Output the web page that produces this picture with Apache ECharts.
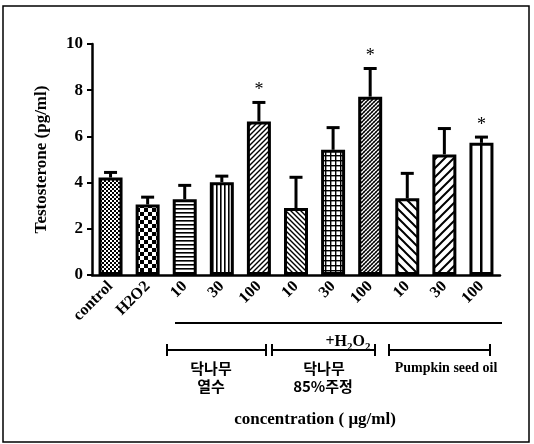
<!DOCTYPE html>
<html>
<head>
<meta charset="utf-8">
<script src="https://cdn.jsdelivr.net/npm/echarts@6/dist/echarts.min.js"></script>
<style>html,body{margin:0;padding:0;background:#fff}#c{width:534px;height:444px}</style>
</head>
<body>
<div id="c"></div>
<script>
// ---- data ----
var categories = ['control', 'H2O2', '10', '30', '100', '10', '30', '100', '10', '30', '100'];
var means = [4.22, 3.05, 3.28, 4.02, 6.65, 2.90, 5.42, 7.72, 3.32, 5.22, 5.72];
var errs = [0.22, 0.32, 0.60, 0.26, 0.82, 1.33, 0.96, 1.22, 1.08, 1.12, 0.25];
var stars = ['', '', '', '', '*', '', '', '*', '', '', '*'];
var patterns = ['checkFine', 'checkLarge', 'hlines', 'vlines', 'diagFwd', 'diagBack', 'grid', 'dense', 'diagBackWide', 'diagFwdWide', 'vwide'];
var yTicks = [0, 2, 4, 6, 8, 10];

var SERIF = '"Liberation Serif","Times New Roman",serif';
var CJK = '"Noto Sans CJK KR","Noto Sans CJK SC",sans-serif';

function makePattern(type) {
  var c = document.createElement('canvas');
  var s = 4;
  var ctx;
  function init(size) { s = size; c.width = size; c.height = size; ctx = c.getContext('2d'); ctx.fillStyle = '#fff'; ctx.fillRect(0, 0, size, size); ctx.fillStyle = '#000'; ctx.strokeStyle = '#000'; }
  function diag(size, w, back) {
    init(size); ctx.lineWidth = w; ctx.beginPath();
    if (!back) {
      ctx.moveTo(-1, size + 1); ctx.lineTo(size + 1, -1);
      ctx.moveTo(-1, 1); ctx.lineTo(1, -1);
      ctx.moveTo(size - 1, size + 1); ctx.lineTo(size + 1, size - 1);
    } else {
      ctx.moveTo(-1, -1); ctx.lineTo(size + 1, size + 1);
      ctx.moveTo(size - 1, -1); ctx.lineTo(size + 1, 1);
      ctx.moveTo(-1, size - 1); ctx.lineTo(1, size + 1);
    }
    ctx.stroke();
  }
  switch (type) {
    case 'checkFine': init(4); ctx.fillRect(0, 0, 2, 2); ctx.fillRect(2, 2, 2, 2); break;
    case 'checkLarge': init(8); ctx.fillRect(0, 0, 4, 4); ctx.fillRect(4, 4, 4, 4); break;
    case 'hlines': init(4); ctx.fillRect(0, 0, 4, 1.6); break;
    case 'vlines': init(4); ctx.fillRect(0, 0, 1.6, 4); break;
    case 'diagFwd': diag(5, 1.4, false); break;
    case 'diagBack': diag(5, 1.4, true); break;
    case 'grid': init(5); ctx.fillRect(0, 0, 5, 1.4); ctx.fillRect(0, 0, 1.4, 5); break;
    case 'dense':
      diag(4, 1.3, false);
      ctx.globalAlpha = 0.5; ctx.lineWidth = 0.8; ctx.beginPath(); ctx.moveTo(-1, -1); ctx.lineTo(5, 5); ctx.stroke(); ctx.globalAlpha = 1;
      break;
    case 'diagBackWide': diag(9, 2, true); break;
    case 'diagFwdWide': diag(9, 2, false); break;
    case 'vwide': init(12); ctx.fillRect(0, 0, 2.5, 12); break;
  }
  return { image: c, repeat: 'repeat' };
}

var barData = means.map(function (v, i) {
  return { value: v, itemStyle: { color: makePattern(patterns[i]), borderColor: '#000', borderWidth: 3 } };
});
var errData = means.map(function (v, i) { return [i, v, v + errs[i]]; });

var chart = echarts.init(document.getElementById('c'), null, { renderer: 'canvas' });
chart.setOption({
  animation: false,
  backgroundColor: '#fff',
  grid: { left: 92, right: 34, top: 44, bottom: 169, containLabel: false },
  xAxis: {
    type: 'category',
    data: categories,
    axisLine: { lineStyle: { color: '#000', width: 2.5 } },
    axisTick: { alignWithLabel: true, length: 5, lineStyle: { color: '#000', width: 2 } },
    axisLabel: { rotate: 45, margin: 9, color: '#000', fontFamily: SERIF, fontWeight: 'bold', fontSize: 16, interval: 0 }
  },
  yAxis: {
    type: 'value', min: yTicks[0], max: yTicks[yTicks.length - 1], interval: 2,
    name: 'Testosterone (pg/ml)', nameLocation: 'middle', nameGap: 42,
    nameTextStyle: { color: '#000', fontFamily: SERIF, fontWeight: 'bold', fontSize: 17 },
    axisLine: { show: true, lineStyle: { color: '#000', width: 2.5 } },
    axisTick: { show: true, length: 5, lineStyle: { color: '#000', width: 2 } },
    axisLabel: { margin: 9, color: '#000', fontFamily: SERIF, fontWeight: 'bold', fontSize: 17 },
    splitLine: { show: false }
  },
  series: [
    { type: 'bar', data: barData, barWidth: 24, z: 2 },
    {
      type: 'custom', z: 3, data: errData,
      renderItem: function (params, api) {
        var i = api.value(0);
        var p0 = api.coord([i, api.value(1)]);
        var p1 = api.coord([i, api.value(2)]);
        var children = [
          { type: 'line', shape: { x1: p0[0], y1: p0[1], x2: p1[0], y2: p1[1] }, style: { stroke: '#000', lineWidth: 3 } },
          { type: 'line', shape: { x1: p1[0] - 6.5, y1: p1[1], x2: p1[0] + 6.5, y2: p1[1] }, style: { stroke: '#000', lineWidth: 3 } }
        ];
        var st = stars[params.dataIndex];
        if (st) {
          children.push({ type: 'text', x: p1[0], y: p1[1] - 12, style: { text: st, fill: '#000', font: '18px ' + SERIF, textAlign: 'center', textVerticalAlign: 'middle' } });
        }
        return { type: 'group', children: children };
      }
    }
  ],
  graphic: [
    { type: 'rect', shape: { x: 3, y: 6, width: 526, height: 436 }, style: { fill: null, stroke: '#000', lineWidth: 1.5 }, silent: true },
    { type: 'line', shape: { x1: 175, y1: 323, x2: 502, y2: 323 }, style: { stroke: '#000', lineWidth: 2 } },
    { type: 'text', x: 348, y: 342, style: { text: '{a|+H}{s|2}{a|O}{s|2}', textAlign: 'center', textVerticalAlign: 'middle', rich: { a: { fontFamily: SERIF, fontWeight: 'bold', fontSize: 16, fill: '#000', verticalAlign: 'bottom' }, s: { fontFamily: SERIF, fontWeight: 'bold', fontSize: 11, fill: '#000', verticalAlign: 'bottom', padding: [0, 0, -3, 0] } } } },
    // brackets
    { type: 'group', children: [
      { type: 'line', shape: { x1: 167, y1: 350, x2: 266, y2: 350 }, style: { stroke: '#000', lineWidth: 2 } },
      { type: 'line', shape: { x1: 167, y1: 344, x2: 167, y2: 356 }, style: { stroke: '#000', lineWidth: 2 } },
      { type: 'line', shape: { x1: 266, y1: 344, x2: 266, y2: 356 }, style: { stroke: '#000', lineWidth: 2 } },
      { type: 'line', shape: { x1: 272, y1: 350, x2: 375, y2: 350 }, style: { stroke: '#000', lineWidth: 2 } },
      { type: 'line', shape: { x1: 272, y1: 344, x2: 272, y2: 356 }, style: { stroke: '#000', lineWidth: 2 } },
      { type: 'line', shape: { x1: 375, y1: 344, x2: 375, y2: 356 }, style: { stroke: '#000', lineWidth: 2 } },
      { type: 'line', shape: { x1: 389, y1: 350, x2: 490, y2: 350 }, style: { stroke: '#000', lineWidth: 2 } },
      { type: 'line', shape: { x1: 389, y1: 344, x2: 389, y2: 356 }, style: { stroke: '#000', lineWidth: 2 } },
      { type: 'line', shape: { x1: 490, y1: 344, x2: 490, y2: 356 }, style: { stroke: '#000', lineWidth: 2 } }
    ] },
    { type: 'text', x: 211, y: 368, style: { text: '닥나무', font: 'bold 15px ' + CJK, fill: '#000', textAlign: 'center', textVerticalAlign: 'middle' } },
    { type: 'text', x: 211, y: 386, style: { text: '열수', font: 'bold 15px ' + CJK, fill: '#000', textAlign: 'center', textVerticalAlign: 'middle' } },
    { type: 'text', x: 324, y: 368, style: { text: '닥나무', font: 'bold 15px ' + CJK, fill: '#000', textAlign: 'center', textVerticalAlign: 'middle' } },
    { type: 'text', x: 323, y: 386, style: { text: '85%주정', font: 'bold 15px ' + CJK, fill: '#000', textAlign: 'center', textVerticalAlign: 'middle' } },
    { type: 'text', x: 446, y: 368, style: { text: 'Pumpkin seed oil', font: 'bold 14px ' + SERIF, fill: '#000', textAlign: 'center', textVerticalAlign: 'middle' } },
    { type: 'text', x: 315, y: 420, style: { text: 'concentration ( μg/ml)', font: 'bold 17px ' + SERIF, fill: '#000', textAlign: 'center', textVerticalAlign: 'middle' } }
  ]
});
</script>
</body>
</html>
